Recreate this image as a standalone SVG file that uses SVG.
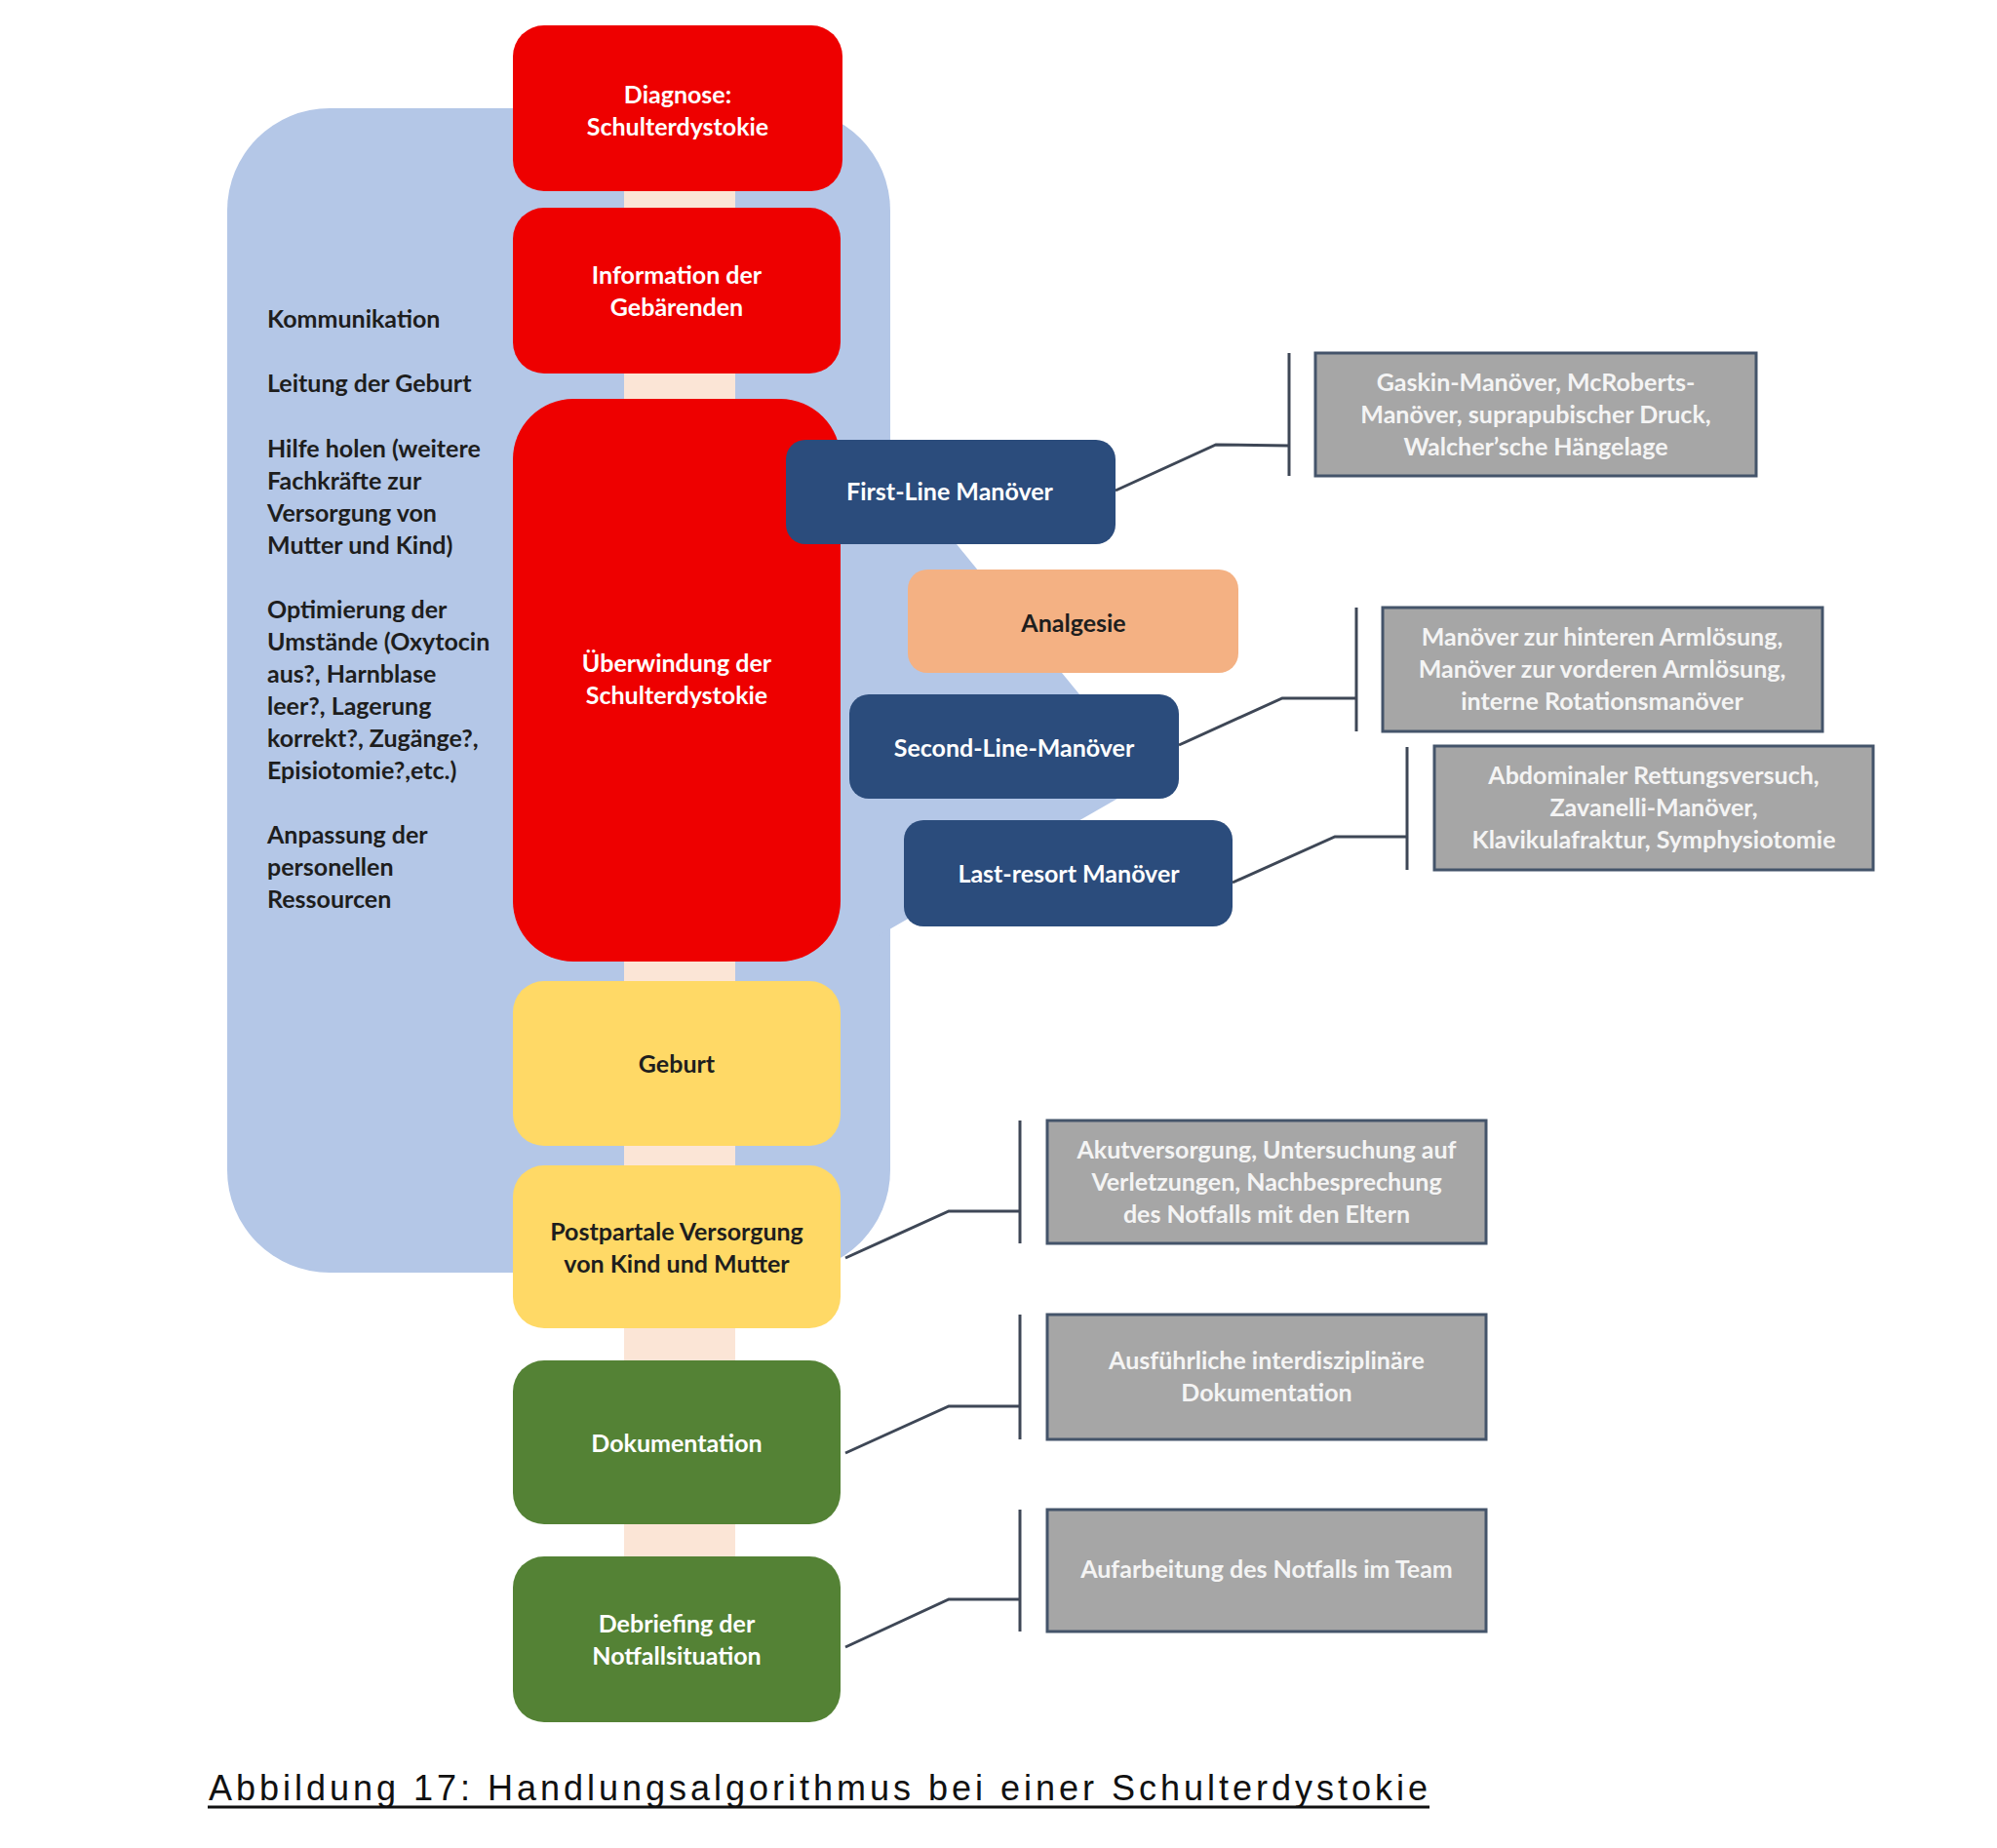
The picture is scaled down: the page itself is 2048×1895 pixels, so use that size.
<svg xmlns="http://www.w3.org/2000/svg" width="2048" height="1895" viewBox="0 0 2048 1895">
<style>
.t{font-family:Lato,"Liberation Sans",sans-serif;font-weight:700;font-size:25px;text-anchor:middle}
.w{fill:#ffffff}
.d{fill:#1e1e1e}
.g{fill:#f4f4f4}
.l{font-family:Lato,"Liberation Sans",sans-serif;font-weight:700;font-size:25px;fill:#1e1e1e}
.red{fill:#ee0000}
.yel{fill:#ffd966}
.grn{fill:#548235}
.nav{fill:#2b4c7c}
.gray{fill:#a6a6a6;stroke:#44546a;stroke-width:3}
.con{fill:none;stroke:#3e4756;stroke-width:3}
.cap{font-family:"Liberation Sans",Arial,sans-serif;font-size:36px;fill:#111111}
</style>
<rect width="2048" height="1895" fill="#ffffff"/>
<g id="background">
<rect x="233" y="111" width="680" height="1194" rx="105" fill="#b4c7e7"/>
<polygon points="900,459 1179,800 900,960" fill="#b4c7e7"/>
<rect x="640" y="150" width="114" height="1560" fill="#fbe5d6"/>
</g>
<g id="left-text" class="l">
<text x="274" y="336">Kommunikation</text>
<text x="274" y="402">Leitung der Geburt</text>
<text x="274" y="469">Hilfe holen (weitere</text>
<text x="274" y="502">Fachkräfte zur</text>
<text x="274" y="535">Versorgung von</text>
<text x="274" y="568">Mutter und Kind)</text>
<text x="274" y="634">Optimierung der</text>
<text x="274" y="667">Umstände (Oxytocin</text>
<text x="274" y="700">aus?, Harnblase</text>
<text x="274" y="733">leer?, Lagerung</text>
<text x="274" y="766">korrekt?, Zugänge?,</text>
<text x="274" y="799">Episiotomie?,etc.)</text>
<text x="274" y="865">Anpassung der</text>
<text x="274" y="898">personellen</text>
<text x="274" y="931">Ressourcen</text>
</g>
<g id="connectors">
<polyline class="con" points="1144,503 1247,456 1322,457"/>
<line class="con" x1="1322" y1="362" x2="1322" y2="488"/>
<polyline class="con" points="1209,764 1315,716 1391,716"/>
<line class="con" x1="1391" y1="623" x2="1391" y2="750"/>
<polyline class="con" points="1264,905 1369,858 1443,858"/>
<line class="con" x1="1443" y1="766" x2="1443" y2="892"/>
<polyline class="con" points="867,1290 973,1242 1046,1242"/>
<line class="con" x1="1046" y1="1149" x2="1046" y2="1275"/>
<polyline class="con" points="867,1490 973,1442 1046,1442"/>
<line class="con" x1="1046" y1="1348" x2="1046" y2="1476"/>
<polyline class="con" points="867,1689 973,1640 1046,1640"/>
<line class="con" x1="1046" y1="1548" x2="1046" y2="1673"/>
</g>
<g id="n-diagnose">
<rect class="red" x="526" y="26" width="338" height="170" rx="32"/>
<text class="t w" x="695" y="106">Diagnose:</text>
<text class="t w" x="695" y="139">Schulterdystokie</text>
</g>
<g id="n-information">
<rect class="red" x="526" y="213" width="336" height="170" rx="32"/>
<text class="t w" x="694" y="291">Information der</text>
<text class="t w" x="694" y="324">Gebärenden</text>
</g>
<g id="n-ueberwindung">
<rect class="red" x="526" y="409" width="336" height="577" rx="62"/>
<text class="t w" x="694" y="689">Überwindung der</text>
<text class="t w" x="694" y="722">Schulterdystokie</text>
</g>
<g id="n-firstline">
<rect class="nav" x="806" y="451" width="338" height="107" rx="20"/>
<text class="t w" x="974" y="513">First-Line Manöver</text>
</g>
<g id="n-analgesie">
<rect fill="#f4b183" x="931" y="584" width="339" height="106" rx="20"/>
<text class="t d" x="1101" y="648">Analgesie</text>
</g>
<g id="n-secondline">
<rect class="nav" x="871" y="712" width="338" height="107" rx="20"/>
<text class="t w" x="1040" y="776">Second-Line-Manöver</text>
</g>
<g id="n-lastresort">
<rect class="nav" x="927" y="841" width="337" height="109" rx="20"/>
<text class="t w" x="1096" y="905">Last-resort Manöver</text>
</g>
<g id="n-geburt">
<rect class="yel" x="526" y="1006" width="336" height="169" rx="32"/>
<text class="t d" x="694" y="1100">Geburt</text>
</g>
<g id="n-postpartale">
<rect class="yel" x="526" y="1195" width="336" height="167" rx="32"/>
<text class="t d" x="694" y="1272">Postpartale Versorgung</text>
<text class="t d" x="694" y="1305">von Kind und Mutter</text>
</g>
<g id="n-dokumentation">
<rect class="grn" x="526" y="1395" width="336" height="168" rx="32"/>
<text class="t w" x="694" y="1489">Dokumentation</text>
</g>
<g id="n-debriefing">
<rect class="grn" x="526" y="1596" width="336" height="170" rx="32"/>
<text class="t w" x="694" y="1674">Debriefing der</text>
<text class="t w" x="694" y="1707">Notfallsituation</text>
</g>
<g id="g-firstline">
<rect class="gray" x="1349" y="362" width="452" height="126"/>
<text class="t g" x="1575" y="401">Gaskin-Manöver, McRoberts-</text>
<text class="t g" x="1575" y="434">Manöver, suprapubischer Druck,</text>
<text class="t g" x="1575" y="467">Walcher’sche Hängelage</text>
</g>
<g id="g-secondline">
<rect class="gray" x="1418" y="623" width="451" height="127"/>
<text class="t g" x="1643" y="662">Manöver zur hinteren Armlösung,</text>
<text class="t g" x="1643" y="695">Manöver zur vorderen Armlösung,</text>
<text class="t g" x="1643" y="728">interne Rotationsmanöver</text>
</g>
<g id="g-lastresort">
<rect class="gray" x="1471" y="765" width="450" height="127"/>
<text class="t g" x="1696" y="804">Abdominaler Rettungsversuch,</text>
<text class="t g" x="1696" y="837">Zavanelli-Manöver,</text>
<text class="t g" x="1696" y="870">Klavikulafraktur, Symphysiotomie</text>
</g>
<g id="g-postpartale">
<rect class="gray" x="1074" y="1149" width="450" height="126"/>
<text class="t g" x="1299" y="1188">Akutversorgung, Untersuchung auf</text>
<text class="t g" x="1299" y="1221">Verletzungen, Nachbesprechung</text>
<text class="t g" x="1299" y="1254">des Notfalls mit den Eltern</text>
</g>
<g id="g-dokumentation">
<rect class="gray" x="1074" y="1348" width="450" height="128"/>
<text class="t g" x="1299" y="1404">Ausführliche interdisziplinäre</text>
<text class="t g" x="1299" y="1437">Dokumentation</text>
</g>
<g id="g-debriefing">
<rect class="gray" x="1074" y="1548" width="450" height="125"/>
<text class="t g" x="1299" y="1618">Aufarbeitung des Notfalls im Team</text>
</g>
<g id="caption">
<text class="cap" x="214" y="1846" textLength="1250" lengthAdjust="spacing">Abbildung 17: Handlungsalgorithmus bei einer Schulterdystokie</text>
<line x1="213" y1="1853" x2="1466" y2="1853" stroke="#111111" stroke-width="3"/>
</g>
</svg>
